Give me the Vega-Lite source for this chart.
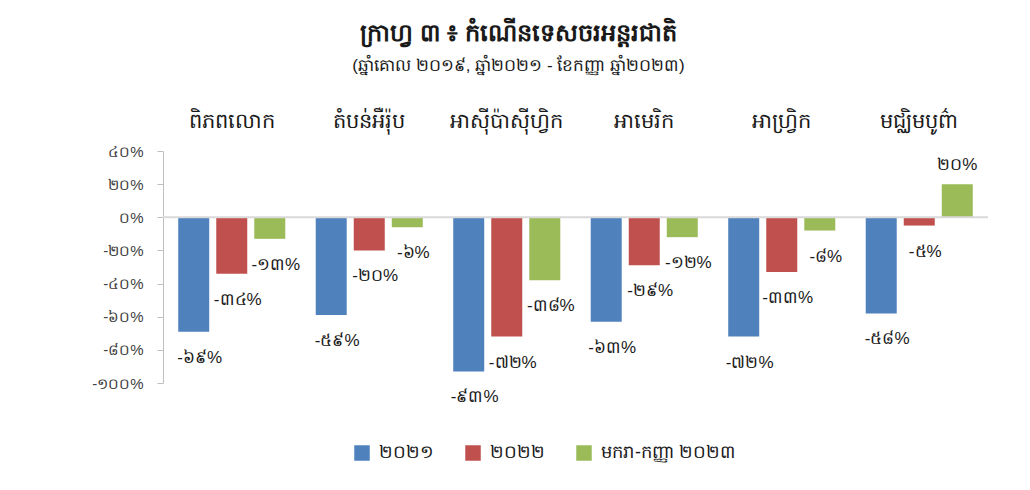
{
  "$schema": "https://vega.github.io/schema/vega-lite/v6.json",
  "autosize": "none",
  "width": 825,
  "height": 232,
  "padding": {"left": 163, "top": 151, "right": 42, "bottom": 107},
  "background": "white",
  "config": {"view": {"stroke": null}},
  "title": {
    "text": "ក្រាហ្វ ៣ ៖ កំណើនទេសចរអន្តរជាតិ",
    "subtitle": "(ឆ្នាំគោល ២០១៩, ឆ្នាំ២០២១ - ខែកញ្ញា ឆ្នាំ២០២៣)",
    "anchor": "middle",
    "dx": -57,
    "offset": 36,
    "fontSize": 24,
    "fontWeight": "bold",
    "color": "#1a1a1a",
    "subtitleFontSize": 17,
    "subtitleColor": "#1a1a1a",
    "subtitlePadding": 12
  },
  "data": {
    "values": [
      {"region": "ពិភពលោក", "series": "២០២១", "value": -69, "label": "-៦៩%"},
      {"region": "ពិភពលោក", "series": "២០២២", "value": -34, "label": "-៣៤%"},
      {"region": "ពិភពលោក", "series": "មករា-កញ្ញា ២០២៣", "value": -13, "label": "-១៣%"},
      {"region": "តំបន់អឺរ៉ុប", "series": "២០២១", "value": -59, "label": "-៥៩%"},
      {"region": "តំបន់អឺរ៉ុប", "series": "២០២២", "value": -20, "label": "-២០%"},
      {"region": "តំបន់អឺរ៉ុប", "series": "មករា-កញ្ញា ២០២៣", "value": -6, "label": "-៦%"},
      {"region": "អាស៊ីប៉ាស៊ីហ្វិក", "series": "២០២១", "value": -93, "label": "-៩៣%"},
      {"region": "អាស៊ីប៉ាស៊ីហ្វិក", "series": "២០២២", "value": -72, "label": "-៧២%"},
      {"region": "អាស៊ីប៉ាស៊ីហ្វិក", "series": "មករា-កញ្ញា ២០២៣", "value": -38, "label": "-៣៨%"},
      {"region": "អាមេរិក", "series": "២០២១", "value": -63, "label": "-៦៣%"},
      {"region": "អាមេរិក", "series": "២០២២", "value": -29, "label": "-២៩%"},
      {"region": "អាមេរិក", "series": "មករា-កញ្ញា ២០២៣", "value": -12, "label": "-១២%"},
      {"region": "អាហ្វ្រិក", "series": "២០២១", "value": -72, "label": "-៧២%"},
      {"region": "អាហ្វ្រិក", "series": "២០២២", "value": -33, "label": "-៣៣%"},
      {"region": "អាហ្វ្រិក", "series": "មករា-កញ្ញា ២០២៣", "value": -8, "label": "-៨%"},
      {"region": "មជ្ឈិមបូព៌ា", "series": "២០២១", "value": -58, "label": "-៥៨%"},
      {"region": "មជ្ឈិមបូព៌ា", "series": "២០២២", "value": -5, "label": "-៥%"},
      {"region": "មជ្ឈិមបូព៌ា", "series": "មករា-កញ្ញា ២០២៣", "value": 20, "label": "២០%"}
    ]
  },
  "encoding": {
    "x": {
      "field": "region",
      "type": "nominal",
      "sort": null,
      "scale": {"paddingInner": 0, "paddingOuter": 0},
      "axis": {
        "orient": "top",
        "title": null,
        "domain": false,
        "ticks": false,
        "labelAngle": 0,
        "labelFontSize": 21,
        "labelColor": "#1a1a1a",
        "labelPadding": 20
      }
    },
    "xOffset": {
      "field": "series",
      "type": "nominal",
      "sort": null,
      "scale": {"paddingInner": 0.184, "paddingOuter": 0.4}
    },
    "y": {
      "field": "value",
      "type": "quantitative",
      "scale": {"domain": [-100, 40], "nice": false},
      "axis": {
        "title": null,
        "values": [40, 20, 0, -20, -40, -60, -80, -100],
        "grid": false,
        "domainColor": "#BFBFBF",
        "tickColor": "#BFBFBF",
        "tickSize": 6,
        "labelFontSize": 15,
        "labelColor": "#404040",
        "labelPadding": 14,
        "labelExpr": "datum.value == 40 ? '៤០%' : datum.value == 20 ? '២០%' : datum.value == 0 ? '០%' : datum.value == -20 ? '-២០%' : datum.value == -40 ? '-៤០%' : datum.value == -60 ? '-៦០%' : datum.value == -80 ? '-៨០%' : '-១០០%'"
      }
    }
  },
  "layer": [
    {
      "mark": {"type": "bar", "width": 31},
      "encoding": {
        "color": {
          "field": "series",
          "type": "nominal",
          "sort": null,
          "scale": {"range": ["#4F81BD", "#C0504D", "#9BBB59"]},
          "legend": {
            "orient": "none",
            "legendX": 190,
            "legendY": 293,
            "direction": "horizontal",
            "title": null,
            "symbolType": "square",
            "symbolSize": 240,
            "symbolStrokeWidth": 0,
            "labelFontSize": 18,
            "labelColor": "#1a1a1a",
            "columnPadding": 30,
            "labelOffset": 8
          }
        }
      }
    },
    {
      "mark": {"type": "rule", "color": "#D9D9D9", "strokeWidth": 2},
      "data": {"values": [{"zero": 0}]},
      "encoding": {"y": {"field": "zero", "type": "quantitative"}, "x": null, "xOffset": null}
    },
    {
      "transform": [{"filter": "datum.value < 0"}],
      "mark": {"type": "text", "fontSize": 17, "color": "#1a1a1a", "dx": 6, "dy": 26},
      "encoding": {"text": {"field": "label"}}
    },
    {
      "transform": [{"filter": "datum.value >= 0"}],
      "mark": {"type": "text", "fontSize": 17, "color": "#1a1a1a", "dx": 0, "dy": -19},
      "encoding": {"text": {"field": "label"}}
    }
  ]
}
